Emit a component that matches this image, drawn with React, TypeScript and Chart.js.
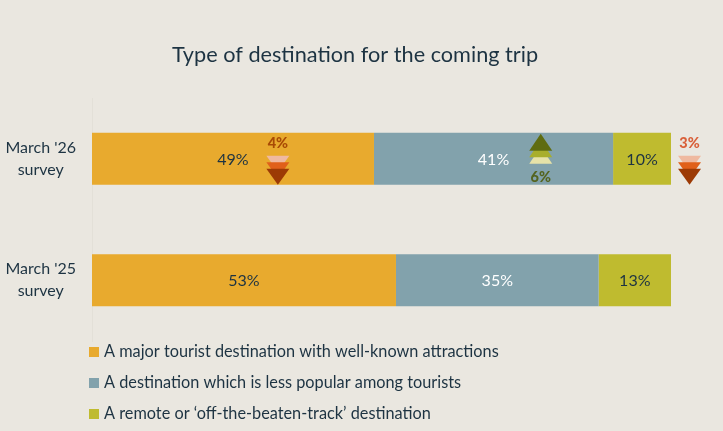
import { useEffect, useRef } from 'react';
import { Chart, registerables } from 'chart.js';

Chart.register(...registerables);

const FONT = 'Lato';
const INK = '#1d3342';

const titleText = 'Type of destination for the coming trip';
const surveys = [["March '26", 'survey'], ["March '25", 'survey']];
const seriesNames = [
  'A major tourist destination with well-known attractions',
  'A destination which is less popular among tourists',
  'A remote or ‘off-the-beaten-track’ destination',
];
const seriesColors = ['#e8aa2e', '#82a2ac', '#bfbb2f'];
const labelColors = [INK, '#ffffff', INK];

// bar widths, printed labels are the rounded ones
const majorValues = [48.7, 52.5];
const lessPopularValues = [41.3, 35];
const remoteValues = [10, 12.5];
const majorLabels = ['49%', '53%'];
const lessPopularLabels = ['41%', '35%'];
const remoteLabels = ['10%', '13%'];

// change markers on the March '26 row
const changeAt = [32.1, 77.5, 103.2];
const changeLabels = ['4%', '6%', '3%'];
const changeUp = [false, true, false];
const changeTextColors = ['#a84a05', '#54641f', '#d9603a'];
const downShades = ['#efb9a0', '#e0601a', '#9c3a05'];
const upShades = ['#e6e2a8', '#a8ae2c', '#5f6c10'];

const valueLabels = [majorLabels, lessPopularLabels, remoteLabels];

const overlay = {
  id: 'overlay',
  beforeDraw(chart: Chart) {
    const ctx = chart.ctx;
    ctx.save();
    ctx.fillStyle = '#eae7e0';
    ctx.fillRect(0, 0, chart.width, chart.height);
    ctx.restore();
  },
  afterDraw(chart: Chart) {
    const ctx = chart.ctx;
    const x = chart.scales.x;
    const y = chart.scales.y;
    ctx.save();
    ctx.textBaseline = 'middle';

    // title
    ctx.textAlign = 'center';
    ctx.fillStyle = INK;
    ctx.font = `21.7px ${FONT}`;
    ctx.fillText(titleText, 355, 55);

    // values inside the bars
    ctx.font = `16px ${FONT}`;
    valueLabels.forEach((labels, d) => {
      chart.getDatasetMeta(d).data.forEach((bar: any, i) => {
        ctx.fillStyle = labelColors[d];
        const mid = (bar.x + bar.base) / 2;
        ctx.fillText(labels[i], mid, bar.y + 1);
      });
    });

    // change arrows
    const rowY = y.getPixelForValue(0);
    changeAt.forEach((v, i) => {
      const cx = x.getPixelForValue(v);
      const up = changeUp[i];
      const shades = up ? upShades : downShades;
      shades.forEach((c, s) => {
        ctx.fillStyle = c;
        ctx.beginPath();
        if (up) {
          const tip = rowY - 25 + (2 - s) * 6.5;
          ctx.moveTo(cx, tip);
          ctx.lineTo(cx - 11.5, tip + 17);
          ctx.lineTo(cx + 11.5, tip + 17);
        } else {
          const tip = rowY + 26 - (2 - s) * 6.5;
          ctx.moveTo(cx, tip);
          ctx.lineTo(cx - 11.5, tip - 16);
          ctx.lineTo(cx + 11.5, tip - 16);
        }
        ctx.closePath();
        ctx.fill();
      });
      ctx.fillStyle = changeTextColors[i];
      ctx.font = `900 14.5px ${FONT}`;
      ctx.fillText(changeLabels[i], cx, up ? rowY + 19 : rowY - 15);
    });

    // legend
    ctx.textAlign = 'left';
    ctx.font = `16.3px ${FONT}`;
    seriesNames.forEach((name, i) => {
      const ly = 352 + i * 31;
      ctx.fillStyle = seriesColors[i];
      ctx.fillRect(89, ly - 5, 10, 10);
      ctx.fillStyle = INK;
      ctx.fillText(name, 104, ly);
    });
    ctx.restore();
  },
};

export default function App() {
  const canvasRef = useRef<HTMLCanvasElement | null>(null);

  useEffect(() => {
    document.body.style.margin = '0';
    const chart = new Chart(canvasRef.current!, {
      type: 'bar',
      plugins: [overlay],
      data: {
        labels: surveys as any,
        datasets: [
          { label: seriesNames[0], data: majorValues, backgroundColor: seriesColors[0] },
          { label: seriesNames[1], data: lessPopularValues, backgroundColor: seriesColors[1] },
          { label: seriesNames[2], data: remoteValues, backgroundColor: seriesColors[2] },
        ],
      },
      options: {
        indexAxis: 'y',
        responsive: false,
        animation: false,
        layout: { padding: { top: 98, bottom: 90, right: 52 } },
        datasets: { bar: { categoryPercentage: 1, barPercentage: 0.43 } },
        plugins: {
          legend: { display: false },
          title: { display: false },
          tooltip: { enabled: false },
        },
        scales: {
          x: { display: false, stacked: true, min: 0, max: 100 },
          y: {
            stacked: true,
            afterFit: (scale: any) => {
              scale.width = 92;
            },
            border: { color: '#e3e0d8' },
            grid: { display: false, drawTicks: false },
            ticks: {
              crossAlign: 'center',
              padding: 16,
              color: INK,
              font: { family: FONT, size: 16, lineHeight: 1.38 },
            },
          },
        },
      },
    });
    return () => chart.destroy();
  }, []);

  return <canvas ref={canvasRef} width={723} height={431} style={{ display: 'block' }} />;
}
